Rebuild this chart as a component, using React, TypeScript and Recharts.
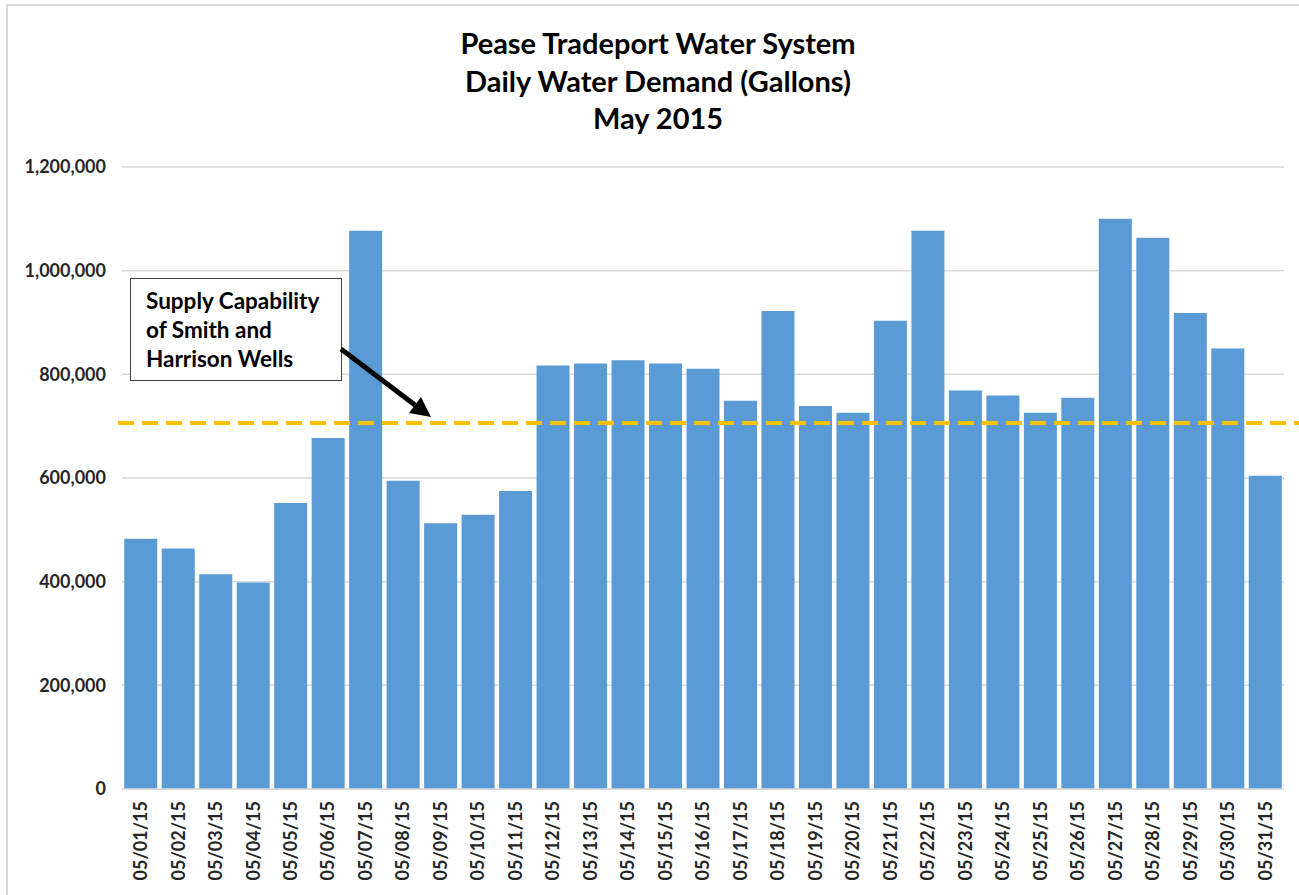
import { BarChart, Bar, XAxis, YAxis, CartesianGrid, ReferenceLine } from "recharts";

// Daily demand, May 2015 (gallons)
const dates = [
  "05/01/15", "05/02/15", "05/03/15", "05/04/15", "05/05/15", "05/06/15", "05/07/15", "05/08/15",
  "05/09/15", "05/10/15", "05/11/15", "05/12/15", "05/13/15", "05/14/15", "05/15/15", "05/16/15",
  "05/17/15", "05/18/15", "05/19/15", "05/20/15", "05/21/15", "05/22/15", "05/23/15", "05/24/15",
  "05/25/15", "05/26/15", "05/27/15", "05/28/15", "05/29/15", "05/30/15", "05/31/15",
];
const demand = [
  483000, 464000, 414500, 398500, 552000, 677000, 1077000, 594500,
  512500, 529000, 575000, 817000, 821000, 827000, 821000, 811000,
  749000, 922000, 739000, 726000, 903500, 1077000, 769000, 759000,
  726000, 755000, 1100000, 1063500, 918500, 850000, 604500,
];
const supplyCapability = 706000;
const yTicks = [0, 200000, 400000, 600000, 800000, 1000000, 1200000];
const titleLines = ["Pease Tradeport Water System", "Daily Water Demand (Gallons)", "May 2015"];
const noteLines = ["Supply Capability", "of Smith and", "Harrison Wells"];

const FONT = "Lato, 'Open Sans', sans-serif";

const rows = dates.map((d, i) => ({ date: d, demand: demand[i] }));

function DateTick(props: any) {
  const { x, y, payload } = props;
  return (
    <g transform={`translate(${x},${y})`}>
      <text
        transform="rotate(-90)"
        x={-4}
        dy="0.35em"
        textAnchor="end"
        fill="#262626"
        fontSize={18}
        fontWeight={700}
        fontFamily={FONT}
      >
        {payload.value}
      </text>
    </g>
  );
}

// dashed line that runs on past the plot's right edge, as in the original
function SupplyLine(props: any) {
  const { x1, y1, x2, y2 } = props;
  return <line x1={x1 - 4} y1={y1} x2={x2 + 15} y2={y2} stroke="#FFC000" strokeWidth={4} strokeDasharray="16 8" />;
}

export default function App() {
  return (
    <div style={{ position: "absolute", left: 0, top: 0, width: 1299, height: 895, background: "#fff", fontFamily: FONT }}>
      <div
        style={{
          position: "absolute", left: 6, top: 4, right: 0, bottom: 0,
          borderTop: "2px solid #d9d9d9", borderLeft: "2px solid #d9d9d9",
        }}
      />
      <div
        style={{
          position: "absolute", left: 0, top: 24, width: 1316, textAlign: "center",
          fontSize: 29, fontWeight: 700, lineHeight: "37.5px", color: "#000",
        }}
      >
        {titleLines.map((t) => (
          <div key={t}>{t}</div>
        ))}
      </div>

      <div style={{ position: "absolute", left: 0, top: 0 }}>
        <BarChart width={1299} height={895} data={rows} margin={{ top: 167, right: 15, left: 12, bottom: 6 }} barCategoryGap="6%">
          <CartesianGrid vertical={false} stroke="#d9d9d9" strokeWidth={1.5} />
          <XAxis
            dataKey="date"
            height={100}
            interval={0}
            tickLine={false}
            axisLine={{ stroke: "#d9d9d9", strokeWidth: 1.5 }}
            tick={<DateTick />}
          />
          <YAxis
            width={110}
            domain={[0, 1200000]}
            ticks={yTicks}
            axisLine={false}
            tickLine={false}
            tickMargin={10}
            tickFormatter={(v: number) => v.toLocaleString("en-US")}
            tick={{ fill: "#262626", fontSize: 18, fontWeight: 700, fontFamily: FONT }}
          />
          <Bar dataKey="demand" fill="#5B9BD5" isAnimationActive={false} />
          <ReferenceLine y={supplyCapability} shape={<SupplyLine />} />
        </BarChart>
      </div>

      <div
        style={{
          position: "absolute", left: 130, top: 278, width: 212, height: 103, boxSizing: "border-box",
          border: "1.5px solid #404040", background: "#fff", padding: "7px 0 0 15px",
          fontSize: 22.5, fontWeight: 700, lineHeight: "29px", color: "#000", whiteSpace: "nowrap",
        }}
      >
        {noteLines.map((t) => (
          <div key={t}>{t}</div>
        ))}
      </div>

      <svg width={1299} height={895} style={{ position: "absolute", left: 0, top: 0, pointerEvents: "none" }}>
        <line x1={341} y1={349} x2={415} y2={405} stroke="#000" strokeWidth={5} />
        <polygon points="431,417 409,413 421,397" fill="#000" />
      </svg>
    </div>
  );
}
